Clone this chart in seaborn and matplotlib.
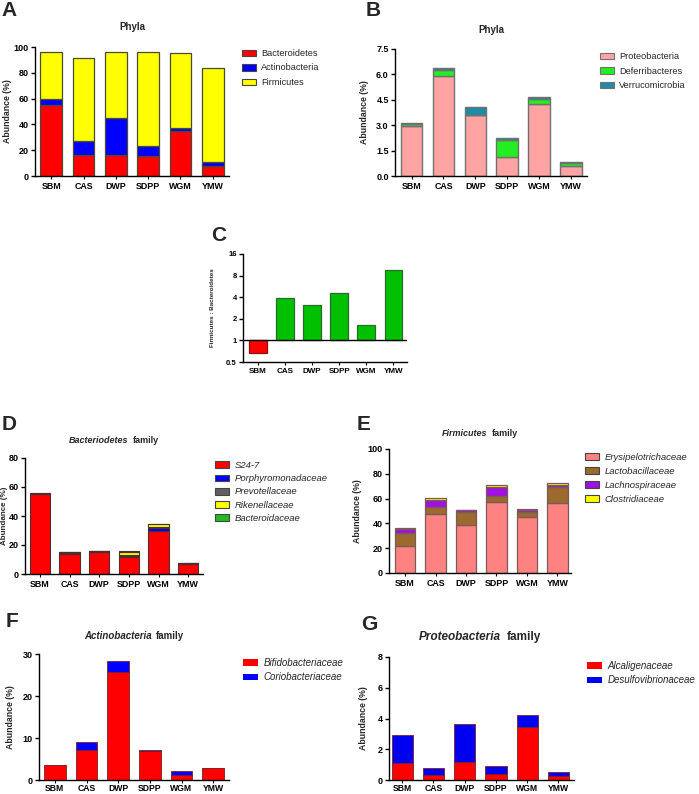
import numpy as np
import matplotlib
matplotlib.use("Agg")
import matplotlib.pyplot as plt
from matplotlib.patches import Patch
import seaborn as sns

sns.set_style("ticks")
plt.rcParams['font.family'] = ['Liberation Sans', 'DejaVu Sans']

# ---------------- data ----------------
cats = ['SBM', 'CAS', 'DWP', 'SDPP', 'WGM', 'YMW']

# A: major phyla (%)
phy_bacteroidetes = [55.0, 16.5, 16.0, 15.5, 34.5, 7.5]
phy_actinobacteria = [4.5, 11.0, 29.0, 7.5, 2.5, 3.0]
phy_firmicutes = [37.0, 64.0, 51.0, 73.0, 58.5, 73.5]

# B: minor phyla (%)
phy_proteobacteria = [2.97, 5.90, 3.60, 1.10, 4.25, 0.62]
phy_deferribacteres = [0.12, 0.38, 0.00, 1.05, 0.27, 0.17]
phy_verrucomicrobia = [0.02, 0.10, 0.50, 0.12, 0.16, 0.02]

# C: Firmicutes : Bacteroidetes ratio
fb_ratio = [0.66, 3.9, 3.16, 4.65, 1.65, 9.5]
ratio_ticks = [0.5, 1, 2, 4, 8, 16]

# D: Bacteroidetes families (%)
bac_s247 = [55.0, 14.0, 15.5, 12.0, 29.5, 7.0]
bac_porphyromonadaceae = [0.3, 0.5, 0.1, 0.5, 2.5, 0.2]
bac_prevotellaceae = [0.2, 0.4, 0.1, 0.5, 0.5, 0.1]
bac_rikenellaceae = [0.2, 0.4, 0.2, 2.5, 2.0, 0.3]
bac_bacteroidaceae = [0.1, 0.1, 0.1, 0.2, 0.1, 0.1]

# E: Firmicutes families (%)
fir_erysipelotrichaceae = [22.0, 47.5, 39.0, 57.0, 45.5, 56.5]
fir_lactobacillaceae = [10.0, 5.5, 10.0, 5.0, 3.5, 13.0]
fir_lachnospiraceae = [3.5, 6.0, 1.5, 7.3, 2.0, 1.5]
fir_clostridiaceae = [1.0, 1.3, 0.5, 1.3, 0.6, 1.3]

# F: Actinobacteria families (%)
act_bifidobacteriaceae = [3.5, 7.2, 25.8, 7.0, 1.2, 2.8]
act_coriobacteriaceae = [0.15, 1.8, 2.6, 0.05, 0.9, 0.05]

# G: Proteobacteria families (%)
pro_alcaligenaceae = [1.1, 0.35, 1.2, 0.4, 3.45, 0.28]
pro_desulfovibrionaceae = [1.8, 0.45, 2.45, 0.5, 0.8, 0.22]

# ---------------- figure ----------------
W, H = 699, 794
fig = plt.figure(figsize=(W / 100, H / 100), dpi=100)
BOLD = 'bold'


def add_ax(x0, y0, x1, y1):
    return fig.add_axes([x0 / W, 1 - y1 / H, (x1 - x0) / W, (y1 - y0) / H])


def ftext(x, y, s, **kw):
    return fig.text(x / W, 1 - y / H, s, **kw)


def style(ax, yticks, yticklabels, ylim, xlim, tsize=6.5, xsize=6.4, xpad=2):
    ax.set_ylim(*ylim)
    ax.set_xlim(*xlim)
    ax.set_yticks(yticks)
    ax.set_yticklabels(yticklabels, fontsize=tsize, fontweight=BOLD)
    ax.set_xticks(range(len(cats)))
    ax.set_xticklabels(cats, fontsize=xsize, fontweight=BOLD)
    for s in ['top', 'right']:
        ax.spines[s].set_visible(False)
    for s in ['left', 'bottom']:
        ax.spines[s].set_linewidth(1.0)
        ax.spines[s].set_color('black')
    ax.tick_params(axis='y', direction='out', length=3, width=1, pad=1.5, colors='black')
    ax.tick_params(axis='x', direction='out', length=2, width=0.8, pad=xpad, colors='black')
    ax.set_xlabel('')
    ax.set_ylabel('')


def stack(ax, layers, colors, edge, lw, width=0.68):
    bottom = np.zeros(len(cats))
    for vals, col in zip(layers, colors):
        sns.barplot(x=cats, y=list(vals), bottom=bottom.copy(), color=col, saturation=1,
                    width=width, edgecolor=edge, linewidth=lw, ax=ax, errorbar=None)
        bottom = bottom + np.asarray(vals)


def ylabel(ax, text, xpx, ax_x0, ax_w, size=6.3):
    ax.set_ylabel(text, fontsize=size, fontweight=BOLD)
    ax.yaxis.set_label_coords((xpx - ax_x0) / ax_w, 0.5)


def legend(ax, labels, colors, x, y, size, italic=False, spacing=0.55, hl=1.5, hh=0.7, edge='#444444'):
    handles = [Patch(facecolor=c, edgecolor=edge, linewidth=0.8) for c in colors]
    ax.legend(handles, labels, loc='upper left', bbox_to_anchor=(x / W, 1 - y / H),
              bbox_transform=fig.transFigure, frameon=False, borderpad=0, borderaxespad=0,
              handlelength=hl, handleheight=hh, handletextpad=0.6, labelspacing=spacing,
              prop={'size': size, 'style': 'italic' if italic else 'normal'})


def mixed_title(cx, cy, ital, rest, size):
    r = fig.canvas.get_renderer()
    t1 = ftext(0, cy, ital, fontsize=size, fontweight=BOLD, style='italic', va='center', ha='left')
    t2 = ftext(0, cy, rest, fontsize=size, fontweight=BOLD, va='center', ha='left')
    w1 = t1.get_window_extent(r).width
    w2 = t2.get_window_extent(r).width
    gap = size * 1.39 * 0.45
    x0 = cx - (w1 + gap + w2) / 2
    t1.set_x(x0 / W)
    t2.set_x((x0 + w1 + gap) / W)


# ---------- Panel A ----------
axA = add_ax(35, 47, 229, 176)
colA = ['#FF0000', '#0000FF', '#FFFF00']
stack(axA, [phy_bacteroidetes, phy_actinobacteria, phy_firmicutes], colA, '#4a4a30', 0.9)
style(axA, [0, 20, 40, 60, 80, 100], ['0', '20', '40', '60', '80', '100'], (0, 100), (-0.5, 5.5))
ylabel(axA, 'Abundance (%)', 12, 35, 194)
ftext(132, 27, 'Phyla', fontsize=7, fontweight=BOLD, ha='center', va='center')
legend(axA, ['Bacteroidetes', 'Actinobacteria', 'Firmicutes'], colA, 242, 49, 6.6, spacing=0.6)
ftext(1, 1, 'A', fontsize=15, fontweight=BOLD, ha='left', va='top')

# ---------- Panel B ----------
axB = add_ax(395, 49, 587, 176)
colB = ['#FFA3A3', '#22EE22', '#1E8BA8']
stack(axB, [phy_proteobacteria, phy_deferribacteres, phy_verrucomicrobia], colB, '#707070', 1.0)
style(axB, [0, 1.5, 3.0, 4.5, 6.0, 7.5], ['0.0', '1.5', '3.0', '4.5', '6.0', '7.5'], (0, 7.5), (-0.52, 5.5))
ylabel(axB, 'Abundance (%)', 369, 395, 192)
ftext(491, 30, 'Phyla', fontsize=7, fontweight=BOLD, ha='center', va='center')
legend(axB, ['Proteobacteria', 'Deferribacteres', 'Verrucomicrobia'], colB, 600, 52, 6.6,
       spacing=0.62, edge='#707070')
ftext(366, 1, 'B', fontsize=15, fontweight=BOLD, ha='left', va='top')

# ---------- Panel C ----------
axC = add_ax(243, 254, 407, 362)
log_ratio = np.log2(fb_ratio)
colC = ['#FF0000' if v < 0 else '#00C000' for v in log_ratio]
sns.barplot(x=cats, y=list(log_ratio), hue=cats, palette=colC, saturation=1, legend=False,
            width=0.66, edgecolor='#2a6a2a', linewidth=0.9, ax=axC, errorbar=None)
for p, v in zip(axC.patches, log_ratio):
    if v < 0:
        p.set_edgecolor('#8a1010')
axC.axhline(0, color='black', lw=1.0)
style(axC, np.log2(ratio_ticks), ['0.5', '1', '2', '4', '8', '16'], (-1, 4), (-0.55, 5.5),
      tsize=5.5, xsize=5.8)
ylabel(axC, 'Firmicutes : Bacteroidetes', 215, 243, 164, size=4.5)
ftext(211, 226, 'C', fontsize=15, fontweight=BOLD, ha='left', va='top')

# ---------- Panel D ----------
axD = add_ax(25, 458, 203, 574)
colD = ['#FF0000', '#0000FF', '#606060', '#FFFF00', '#22BB22']
stack(axD, [bac_s247, bac_porphyromonadaceae, bac_prevotellaceae, bac_rikenellaceae, bac_bacteroidaceae],
      colD, '#4a3030', 0.8)
style(axD, [0, 20, 40, 60, 80], ['0', '20', '40', '60', '80'], (0, 80), (-0.5, 5.5))
ylabel(axD, 'Abundance (%)', 7.5, 25, 178, size=5.8)
mixed_title(114, 441, 'Bacteriodetes', 'family', 6.5)
legend(axD, ['S24-7', 'Porphyromonadaceae', 'Prevotellaceae', 'Rikenellaceae', 'Bacteroidaceae'],
       colD, 215, 461, 6.8, italic=True, spacing=0.45)
ftext(2, 415, 'D', fontsize=15, fontweight=BOLD, ha='left', va='top')

# ---------- Panel E ----------
axE = add_ax(389, 449, 571, 573)
colE = ['#FF8282', '#9B6A2C', '#A010E0', '#FFFF00']
stack(axE, [fir_erysipelotrichaceae, fir_lactobacillaceae, fir_lachnospiraceae, fir_clostridiaceae],
      colE, '#7a5a5a', 0.9)
style(axE, [0, 20, 40, 60, 80, 100], ['0', '20', '40', '60', '80', '100'], (0, 100), (-0.53, 5.45))
ylabel(axE, 'Abundance (%)', 362, 389, 182)
mixed_title(480, 433, 'Firmicutes', 'family', 6.5)
legend(axE, ['Erysipelotrichaceae', 'Lactobacillaceae', 'Lachnospiraceae', 'Clostridiaceae'],
       colE, 585, 453, 6.8, italic=True, spacing=0.52)
ftext(357, 415, 'E', fontsize=15, fontweight=BOLD, ha='left', va='top')

# ---------- Panel F ----------
axF = add_ax(39, 654, 229, 780)
colF = ['#FF0000', '#0000FF']
stack(axF, [act_bifidobacteriaceae, act_coriobacteriaceae], colF, '#802020', 0.6)
style(axF, [0, 10, 20, 30], ['0', '10', '20', '30'], (0, 30), (-0.5, 5.5), xsize=6.2, xpad=1)
ylabel(axF, 'Abundance (%)', 15, 39, 190)
mixed_title(134, 636, 'Actinobacteria', 'family', 7)
legend(axF, ['Bifidobacteriaceae', 'Coriobacteriaceae'], colF, 243, 658, 7, italic=True,
       spacing=0.45, edge='none')
ftext(6, 612, 'F', fontsize=15, fontweight=BOLD, ha='left', va='top')

# ---------- Panel G ----------
axG = add_ax(389, 657, 574, 780)
colG = ['#FF0000', '#0000F0']
stack(axG, [pro_alcaligenaceae, pro_desulfovibrionaceae], colG, '#802020', 0.6)
style(axG, [0, 2, 4, 6, 8], ['0', '2', '4', '6', '8'], (0, 8), (-0.42, 5.5), xsize=6.2, xpad=1)
ylabel(axG, 'Abundance (%)', 368, 389, 185)
mixed_title(480, 637, 'Proteobacteria', 'family', 8.5)
legend(axG, ['Alcaligenaceae', 'Desulfovibrionaceae'], colG, 587, 661, 7, italic=True,
       spacing=0.45, edge='none')
ftext(361, 615, 'G', fontsize=15, fontweight=BOLD, ha='left', va='top')

fig.savefig('out.png', dpi=100)
